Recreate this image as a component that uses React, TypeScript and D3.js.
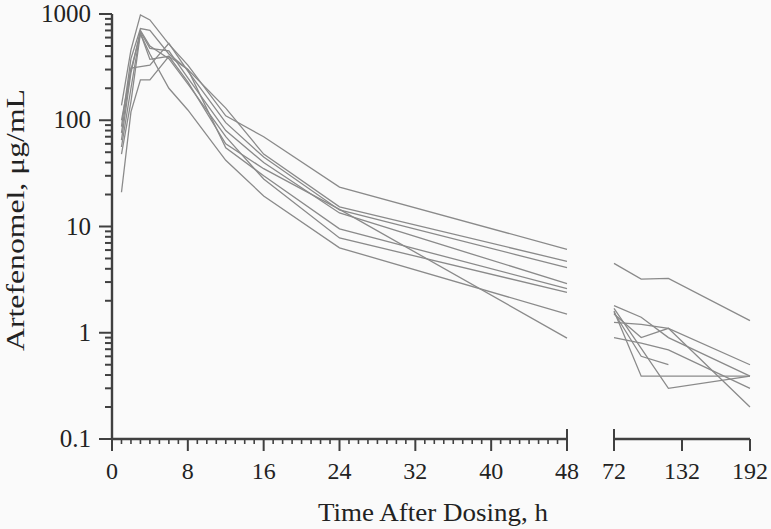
import React from "react";
import * as d3 from "d3";

// ---- Data ----
const leftTimes = [1, 2, 3, 4, 6, 8, 12, 16, 24, 48];
const rightTimes = [72, 96, 120, 192];

const leftSubjects: number[][] = [
  [138, 460, 980, 880, 520, 330, 110, 70, 23.5, 6.1],
  [87, 380, 730, 700, 420, 300, 130, 48, 15.3, 4.7],
  [76, 310, 320, 330, 530, 290, 95, 45, 14.3, 4.1],
  [56, 200, 680, 475, 450, 250, 80, 40, 13.4, 2.9],
  [48, 150, 660, 374, 400, 230, 60, 35, 14.5, 0.89],
  [21, 120, 240, 240, 400, 300, 55, 30, 9.5, 2.6],
  [65, 280, 700, 500, 380, 220, 70, 28, 7.8, 2.4],
  [100, 300, 650, 420, 200, 125, 42, 19.4, 6.3, 1.5],
];

const rightSubjects: (number | null)[][] = [
  [4.5, 3.2, 3.25, 1.3],
  [1.8, 1.4, 0.9, 0.39],
  [1.25, 1.2, 1.1, 0.5],
  [1.5, 0.9, 1.1, 0.2],
  [0.9, 0.8, 0.69, 0.3],
  [1.55, 0.6, 0.5, null],
  [1.6, 0.39, 0.39, 0.39],
  [1.7, null, 0.3, 0.39],
];

const yTickValues = [0.1, 1, 10, 100, 1000];
const yTickLabels = ["0.1", "1", "10", "100", "1000"];
const xLeftTicks = [0, 8, 16, 24, 32, 40, 48];
const xRightTicks = [72, 132, 192];

const yTitle = "Artefenomel, μg/mL";
const xTitle = "Time After Dosing, h";

const FONT = "Liberation Serif";

export default function App() {
  const W = 771, H = 529;
  const y = d3.scaleLog().domain([0.1, 1000]).range([439, 14]);
  const xL = d3.scaleLinear().domain([0, 48]).range([112, 567]);
  const xR = d3.scaleLinear().domain([72, 192]).range([614, 750]);
  const axisY = 439;
  const axisColor = "#404040";
  const lineColor = "#8a8a8a";
  const fontStyle = { fontFamily: FONT };

  const lineL = d3.line<[number, number]>().x(d => xL(d[0])).y(d => y(d[1]));
  const lineR = d3.line<[number, number]>().x(d => xR(d[0])).y(d => y(d[1]));

  const minorY: number[] = [];
  for (let e = -1; e < 3; e++) {
    for (let k = 2; k <= 9; k++) minorY.push(k * Math.pow(10, e));
  }
  const minorX = d3.range(0, 49, 1).filter(v => v % 8 !== 0);

  return (
    <svg width={W} height={H} style={{ position: "absolute", left: 0, top: 0, background: "#fafafa" }}>
      <rect x={0} y={0} width={W} height={H} fill="#fafafa" />
      {/* data lines */}
      <g fill="none" stroke={lineColor} strokeWidth={1.3}>
        {leftSubjects.map((s, i) => (
          <path key={"l" + i} d={lineL(leftTimes.map((t, j) => [t, s[j]] as [number, number])) || ""} />
        ))}
        {rightSubjects.map((s, i) => {
          const pts = rightTimes
            .map((t, j) => [t, s[j]] as [number, number | null])
            .filter(p => p[1] != null) as [number, number][];
          return <path key={"r" + i} d={lineR(pts) || ""} />;
        })}
      </g>
      {/* Y axis */}
      <g stroke={axisColor} strokeWidth={2}>
        <line x1={112} x2={112} y1={y(1000)} y2={axisY} strokeWidth={2.4} />
        {yTickValues.map(v => (
          <line key={"ym" + v} x1={99} x2={112} y1={y(v)} y2={y(v)} />
        ))}
        {minorY.map(v => (
          <line key={"yn" + v} x1={105} x2={112} y1={y(v)} y2={y(v)} />
        ))}
      </g>
      {yTickValues.map((v, i) => (
        <text key={"yl" + v} x={91} y={y(v) + 8} fontFamily={FONT} style={fontStyle} fontSize={25} fill="#222" textAnchor="end">
          {yTickLabels[i]}
        </text>
      ))}
      {/* X axis */}
      <g stroke={axisColor} strokeWidth={2}>
        <line x1={xL(0)} x2={xL(48)} y1={axisY} y2={axisY} strokeWidth={2.4} />
        {minorX.map(v => (
          <line key={"xn" + v} x1={xL(v)} x2={xL(v)} y1={axisY} y2={axisY + 5} strokeWidth={1.6} />
        ))}
        {xLeftTicks.map(v => (
          <line key={"xm" + v} x1={xL(v)} x2={xL(v)} y1={v === 48 ? axisY - 10 : axisY} y2={axisY + 12} />
        ))}
        <line x1={xR(72)} x2={xR(192)} y1={axisY} y2={axisY} strokeWidth={2.4} />
        {xRightTicks.map(v => (
          <line key={"xr" + v} x1={xR(v)} x2={xR(v)} y1={v === 72 ? axisY - 10 : axisY} y2={axisY + 12} />
        ))}
      </g>
      {xLeftTicks.map(v => (
        <text key={"xlt" + v} x={xL(v)} y={479} fontFamily={FONT} style={fontStyle} fontSize={24} fill="#222" textAnchor="middle">
          {String(v)}
        </text>
      ))}
      {xRightTicks.map(v => (
        <text key={"xrt" + v} x={xR(v)} y={479} fontFamily={FONT} style={fontStyle} fontSize={24} fill="#222" textAnchor="middle">
          {String(v)}
        </text>
      ))}
      {/* titles */}
      <text
        fontFamily={FONT}
        style={fontStyle}
        fontSize={26}
        fill="#222"
        textAnchor="middle"
        x={433}
        y={521}
        textLength={230}
        lengthAdjust="spacingAndGlyphs"
      >
        {xTitle}
      </text>
      <g transform="translate(24,220) rotate(-90)">
        <text
          fontFamily={FONT}
          style={fontStyle}
          fontSize={26}
          fill="#222"
          textAnchor="middle"
          x={0}
          y={0}
          textLength={262}
          lengthAdjust="spacingAndGlyphs"
        >
          {yTitle}
        </text>
      </g>
    </svg>
  );
}
